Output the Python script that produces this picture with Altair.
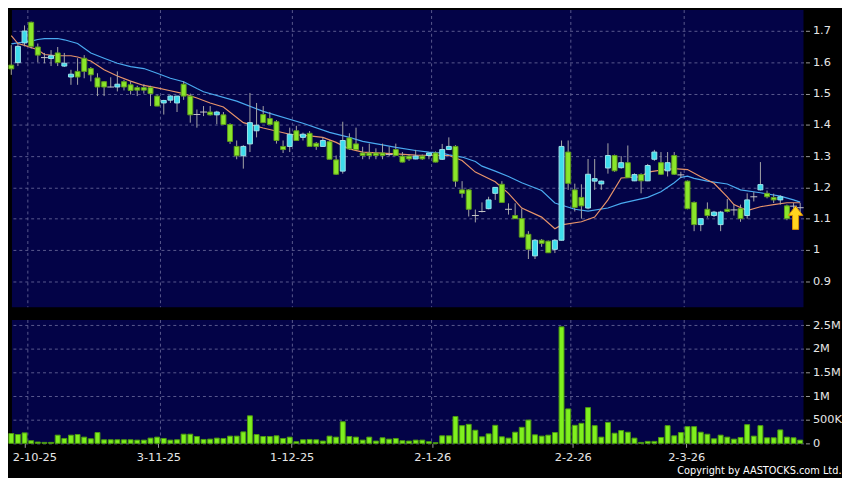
import altair as alt
import pandas as pd

# ---------------- data ----------------
opens = [1.591, 1.599, 1.662, 1.728, 1.649, 1.615, 1.612, 1.630, 1.588, 1.553,
         1.571, 1.613, 1.580, 1.550, 1.538, 1.521, 1.521, 1.538, 1.528, 1.519,
         1.519, 1.519, 1.492, 1.470, 1.479, 1.470, 1.530, 1.492, 1.433, 1.441,
         1.441, 1.432, 1.432, 1.401, 1.331, 1.301, 1.339, 1.381, 1.433, 1.420,
         1.410, 1.331, 1.331, 1.381, 1.360, 1.373, 1.341, 1.331, 1.346, 1.288,
         1.252, 1.358, 1.339, 1.310, 1.310, 1.310, 1.310, 1.305, 1.321, 1.300,
         1.300, 1.291, 1.300, 1.302, 1.310, 1.290, 1.321, 1.331, 1.192, 1.192,
         1.110, 1.123, 1.132, 1.181, 1.210, 1.130, 1.110, 1.100, 1.050, 0.981,
         1.031, 1.028, 1.002, 1.031, 1.313, 1.192, 1.168, 1.134, 1.220, 1.211,
         1.262, 1.302, 1.263, 1.279, 1.221, 1.241, 1.221, 1.290, 1.279, 1.253,
         1.302, 1.240, 1.220, 1.152, 1.081, 1.130, 1.110, 1.081, 1.130, 1.128,
         1.132, 1.110, 1.170, 1.192, 1.181, 1.168, 1.160, 1.141, 1.140, 1.135]
highs = [1.655, 1.662, 1.718, 1.730, 1.660, 1.630, 1.639, 1.649, 1.630, 1.576,
         1.613, 1.623, 1.585, 1.565, 1.540, 1.552, 1.571, 1.544, 1.539, 1.525,
         1.530, 1.525, 1.495, 1.480, 1.495, 1.492, 1.539, 1.500, 1.449, 1.460,
         1.460, 1.445, 1.441, 1.405, 1.350, 1.335, 1.502, 1.470, 1.460, 1.441,
         1.415, 1.350, 1.391, 1.397, 1.375, 1.380, 1.345, 1.360, 1.350, 1.302,
         1.410, 1.373, 1.391, 1.330, 1.340, 1.325, 1.340, 1.330, 1.340, 1.313,
         1.305, 1.320, 1.305, 1.310, 1.315, 1.339, 1.360, 1.335, 1.220, 1.195,
         1.129, 1.152, 1.170, 1.200, 1.220, 1.149, 1.149, 1.132, 1.060, 1.035,
         1.035, 1.030, 1.035, 1.350, 1.350, 1.212, 1.210, 1.291, 1.291, 1.222,
         1.341, 1.305, 1.300, 1.334, 1.245, 1.245, 1.275, 1.320, 1.313, 1.313,
         1.313, 1.250, 1.222, 1.155, 1.100, 1.152, 1.125, 1.125, 1.163, 1.145,
         1.145, 1.181, 1.185, 1.281, 1.190, 1.180, 1.175, 1.145, 1.150, 1.150]
lows = [1.560, 1.588, 1.651, 1.644, 1.600, 1.597, 1.588, 1.588, 1.585, 1.528,
        1.528, 1.549, 1.539, 1.492, 1.492, 1.520, 1.507, 1.510, 1.497, 1.492,
        1.500, 1.460, 1.460, 1.433, 1.470, 1.441, 1.480, 1.407, 1.391, 1.428,
        1.430, 1.402, 1.400, 1.339, 1.290, 1.260, 1.313, 1.360, 1.407, 1.400,
        1.340, 1.310, 1.313, 1.350, 1.350, 1.331, 1.320, 1.330, 1.290, 1.240,
        1.244, 1.320, 1.320, 1.290, 1.290, 1.290, 1.290, 1.300, 1.300, 1.280,
        1.285, 1.290, 1.288, 1.290, 1.280, 1.288, 1.320, 1.202, 1.167, 1.107,
        1.088, 1.120, 1.130, 1.160, 1.152, 1.113, 1.100, 1.041, 0.971, 0.971,
        1.010, 0.991, 0.990, 1.030, 1.192, 1.123, 1.100, 1.130, 1.192, 1.192,
        1.244, 1.250, 1.260, 1.231, 1.220, 1.181, 1.220, 1.285, 1.240, 1.235,
        1.240, 1.230, 1.130, 1.060, 1.060, 1.103, 1.105, 1.060, 1.120, 1.110,
        1.090, 1.100, 1.155, 1.190, 1.165, 1.150, 1.145, 1.095, 1.100, 1.115]
closes = [1.579, 1.651, 1.700, 1.651, 1.623, 1.615, 1.621, 1.599, 1.597, 1.562,
          1.553, 1.571, 1.560, 1.521, 1.521, 1.521, 1.530, 1.521, 1.510, 1.511,
          1.511, 1.500, 1.460, 1.478, 1.492, 1.492, 1.492, 1.432, 1.433, 1.441,
          1.432, 1.441, 1.401, 1.347, 1.301, 1.331, 1.407, 1.399, 1.407, 1.401,
          1.350, 1.321, 1.370, 1.350, 1.370, 1.331, 1.331, 1.350, 1.290, 1.242,
          1.350, 1.323, 1.321, 1.302, 1.302, 1.302, 1.302, 1.305, 1.302, 1.281,
          1.291, 1.300, 1.291, 1.310, 1.281, 1.321, 1.331, 1.220, 1.181, 1.130,
          1.110, 1.123, 1.160, 1.200, 1.152, 1.130, 1.100, 1.041, 1.002, 1.031,
          1.021, 0.991, 1.031, 1.331, 1.213, 1.136, 1.141, 1.242, 1.228, 1.220,
          1.302, 1.253, 1.279, 1.231, 1.241, 1.221, 1.270, 1.313, 1.242, 1.279,
          1.242, 1.240, 1.132, 1.081, 1.100, 1.110, 1.121, 1.121, 1.123, 1.128,
          1.100, 1.160, 1.170, 1.209, 1.170, 1.160, 1.170, 1.100, 1.140, 1.135]
volumes = [208, 187, 222, 56, 28, 21, 21, 174, 104, 174,
           187, 132, 97, 229, 76, 76, 76, 76, 76, 69,
           69, 111, 132, 104, 69, 76, 194, 194, 146, 83,
           90, 111, 104, 153, 153, 243, 583, 187, 146, 146,
           160, 104, 132, 35, 76, 83, 76, 49, 153, 132,
           458, 146, 132, 69, 132, 49, 118, 90, 104, 56,
           49, 69, 69, 35, 14, 160, 160, 569, 375, 403,
           278, 139, 201, 382, 139, 111, 236, 340, 493, 181,
           153, 174, 229, 2465, 729, 382, 424, 757, 375, 132,
           444, 215, 271, 236, 111, 21, 42, 42, 125, 375,
           160, 229, 354, 354, 236, 194, 97, 174, 132, 90,
           125, 396, 153, 375, 118, 118, 285, 132, 118, 69]  # thousands

# moving averages: (trading-day index, value)
ma_short = [(0, 1.685), (1, 1.660), (2, 1.654), (4, 1.640), (5, 1.625), (7, 1.621),
            (9, 1.621), (10, 1.617), (12, 1.604), (14, 1.576), (16, 1.556), (18, 1.540),
            (20, 1.526), (22, 1.518), (24, 1.509), (26, 1.500), (28, 1.486), (30, 1.470),
            (32, 1.457), (35, 1.407), (38, 1.390), (42, 1.370), (45, 1.365), (47, 1.360),
            (49, 1.344), (51, 1.323), (53, 1.313), (58, 1.307), (61, 1.303), (66, 1.302),
            (68, 1.286), (70, 1.249), (73, 1.218), (75, 1.181), (77, 1.134), (80, 1.105),
            (82, 1.068), (83, 1.080), (86, 1.090), (88, 1.105), (90, 1.160), (92, 1.230),
            (95, 1.234), (96, 1.249), (98, 1.255), (100, 1.260), (102, 1.257), (104, 1.234),
            (106, 1.213), (108, 1.170), (109, 1.145), (111, 1.126), (113, 1.138),
            (115, 1.145), (117, 1.151), (119, 1.151)]
ma_long = [(0, 1.659), (1, 1.662), (3, 1.668), (4, 1.673), (5, 1.676), (7, 1.676),
           (8, 1.672), (10, 1.660), (11, 1.645), (12, 1.630), (14, 1.613), (16, 1.597),
           (18, 1.586), (20, 1.580), (22, 1.565), (24, 1.549), (26, 1.538), (28, 1.516),
           (29, 1.506), (34, 1.476), (38, 1.443), (44, 1.405), (48, 1.376), (51, 1.360),
           (53, 1.347), (56, 1.336), (58, 1.328), (61, 1.318), (63, 1.313), (65, 1.310),
           (66, 1.304), (68, 1.297), (70, 1.283), (71, 1.268), (73, 1.252), (75, 1.235),
           (77, 1.215), (80, 1.190), (82, 1.150), (85, 1.130), (87, 1.124), (90, 1.134),
           (92, 1.149), (96, 1.168), (98, 1.186), (100, 1.215), (101, 1.232), (102, 1.236),
           (103, 1.229), (105, 1.220), (108, 1.211), (110, 1.192), (113, 1.183),
           (116, 1.172), (118, 1.160), (119, 1.153)]

tick_pos = [2.0, 22.2, 42.3, 63.5, 84.7, 101.8]
tick_labels = ["2-10-25", "3-11-25", "1-12-25", "2-1-26", "2-2-26", "2-3-26"]
grid_pos = [2.5, 22.5, 42.4, 63.4, 84.4, 101.5]
price_ticks = [0.9, 1.0, 1.1, 1.2, 1.3, 1.4, 1.5, 1.6, 1.7]
vol_ticks = [0, 500000, 1000000, 1500000, 2000000, 2500000]
arrow_point = [(118.3, 1.103)]

# ---------------- styling ----------------
NAVY = "#030347"
UP_FILL, UP_STROKE = "#3ddcec", "#9fe3ea"
DN_FILL, DN_STROKE = "#8ae62a", "#5f9c1c"
WICK = "#a8a8a8"
GRID = "#5a5a8e"
FONT = "DejaVu Sans"

df = pd.DataFrame({"i": list(range(len(opens))), "open": opens, "high": highs,
                   "low": lows, "close": closes,
                   "vol": [v * 1000 for v in volumes]})
df_short = pd.DataFrame(ma_short, columns=["i", "v"])
df_long = pd.DataFrame(ma_long, columns=["i", "v"])
df_arrow = pd.DataFrame(arrow_point, columns=["i", "v"])
df_grid = pd.DataFrame({"i": grid_pos})

xscale = alt.Scale(domain=[0.1, 119.5], nice=False, zero=False, padding=0)
pscale = alt.Scale(domain=[0.817, 1.767], nice=False, zero=False, padding=0)
vscale = alt.Scale(domain=[0, 2610000], nice=False, zero=False, padding=0)

x_price_axis = alt.Axis(values=tick_pos, labels=False, ticks=False, domain=False,
                        grid=False)
label_expr = "''"
for p, l in reversed(list(zip(tick_pos, tick_labels))):
    label_expr = f"abs(datum.value - {p}) < 0.01 ? '{l}' : ({label_expr})"
x_vol_axis = alt.Axis(values=tick_pos, labelExpr=label_expr, ticks=True, tickSize=4,
                      domain=False, grid=False, labelPadding=4, labelFontSize=11.5,
                      labelOffset={"condition": {"test": f"datum.value < {tick_pos[1]}",
                                                 "value": 10}, "value": 0})

p_axis = alt.Axis(orient="right", values=price_ticks, format="~g", tickSize=4,
                  offset=2, labelPadding=3, domain=False, grid=True)
v_axis = alt.Axis(orient="right", values=vol_ticks, tickSize=4, offset=2,
                  labelPadding=3, domain=False, grid=True,
                  labelExpr="datum.value == 0 ? '0' : (datum.value < 1000000 ? (datum.value/1000) + 'K' : (datum.value/1000000) + 'M')")

def X(axis):
    return alt.X("i:Q", scale=xscale, axis=axis, title=None)

def PY(field):
    return alt.Y(field, type="quantitative", scale=pscale, axis=p_axis, title=None)

vgrid_price = alt.Chart(df_grid).mark_rule(color=GRID, strokeDash=[3, 3],
                                           strokeWidth=1).encode(x=X(x_price_axis))
base = alt.Chart(df)
wicks = base.mark_rule(color=WICK, strokeWidth=1).encode(
    x=X(x_price_axis), y=PY("low"), y2="high:Q")
bodies = base.transform_filter("datum.open != datum.close").mark_bar(
    size=5, strokeWidth=1).encode(
    x=X(x_price_axis), y=PY("open"), y2="close:Q",
    fill=alt.condition("datum.close > datum.open", alt.value(UP_FILL), alt.value(DN_FILL)),
    stroke=alt.condition("datum.close > datum.open", alt.value(UP_STROKE), alt.value(DN_STROKE)))
dojis = base.transform_filter("datum.open == datum.close").mark_tick(
    orient="horizontal", size=7, thickness=1, color="#c8c8c8", opacity=1).encode(
    x=X(x_price_axis), y=PY("close"))
line_short = alt.Chart(df_short).mark_line(color="#e8946a", strokeWidth=1.2).encode(
    x=X(x_price_axis), y=PY("v"))
line_long = alt.Chart(df_long).mark_line(color="#4aaaf0", strokeWidth=1.2).encode(
    x=X(x_price_axis), y=PY("v"))
arrow_shape = "M0,-1 L0.62,-0.2 L0.26,-0.2 L0.26,1 L-0.26,1 L-0.26,-0.2 L-0.62,-0.2 Z"
arrow = alt.Chart(df_arrow).mark_point(shape=arrow_shape, size=560, filled=True,
                                       fill="#ffd61f", stroke="#d89000",
                                       strokeWidth=1, opacity=1).encode(
    x=X(x_price_axis), y=PY("v"))

price = alt.layer(vgrid_price, line_long, line_short, wicks, bodies, dojis, arrow).properties(
    width=802, height=301)

vgrid_vol = alt.Chart(df_grid).mark_rule(color=GRID, strokeDash=[3, 3],
                                         strokeWidth=1).encode(x=X(x_vol_axis))
vol_bars = alt.Chart(df).mark_bar(size=5, fill="#7ff01e", stroke="#4c9a10",
                                  strokeWidth=1).encode(
    x=X(x_vol_axis),
    y=alt.Y("vol:Q", scale=vscale, axis=v_axis, title=None))
volume = alt.layer(vgrid_vol, vol_bars).properties(width=802, height=125)

chart = alt.vconcat(price, volume, spacing=11).properties(
    padding={"left": 0, "top": -2, "right": 0, "bottom": 0},
    title=alt.TitleParams(text="Copyright by AASTOCKS.com Ltd.", orient="bottom",
                          anchor="end", frame="bounds", color="#ffffff",
                          fontSize=11, fontWeight="normal",
                          font="DejaVu Sans Condensed, Liberation Sans Narrow, DejaVu Sans",
                          offset=3)
).configure(background="#000000").configure_view(
    fill=NAVY, strokeWidth=0
).configure_axis(
    labelColor="#e6e6e6", labelFont=FONT, labelFontSize=11.5, tickColor="#9a9a9a",
    gridColor=GRID, gridDash=[3, 3], gridWidth=1, gridOpacity=1
)

chart.save("out.html", embed_options={"renderer": "svg", "actions": False})
